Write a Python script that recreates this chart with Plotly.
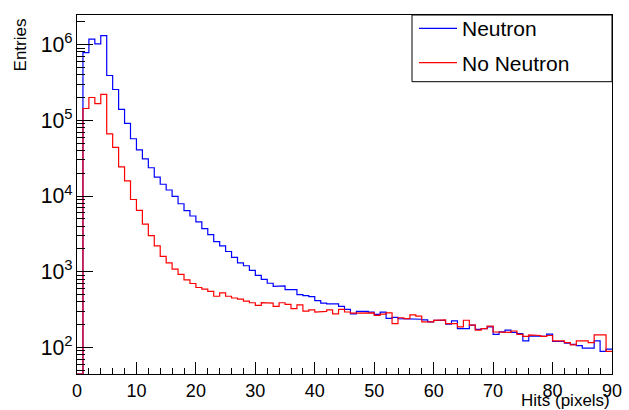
import plotly.graph_objects as go

# Bin edges: 90 bins of width 1 from 0 to 90
bin_lo = 0
bin_hi = 90

neutron = [
    0, 7.8e5, 1.18e6, 1.02e6, 1.31e6, 3.9e5, 2.55e5, 1.39e5, 9.1e4, 5.7e4,
    4.07e4, 3.1e4, 2.36e4, 1.78e4, 1.43e4, 1.2e4, 9.9e3, 7.9e3, 6.4e3, 5.45e3,
    4.55e3, 3.7e3, 3.1e3, 2.5e3, 2.19e3, 1.85e3, 1.55e3, 1.31e3, 1.2e3, 1.04e3,
    895, 795, 705, 640, 650, 580, 580, 500, 485, 470,
    415, 385, 376, 376, 348, 318, 278, 300, 300, 293,
    274, 293, 243, 250, 240, 240, 240, 236, 231, 218,
    228, 228, 203, 224, 178, 178, 197, 173, 178, 187,
    149, 161, 170, 158, 153, 122, 142, 140, 140, 150,
    120, 120, 114, 110, 106, 98, 98, 122, 89, 95,
]

no_neutron = [
    0, 1.43e5, 2.0e5, 1.66e5, 2.2e5, 6.6e4, 4.4e4, 2.43e4, 1.58e4, 9.0e3,
    6.45e3, 4.25e3, 3.0e3, 2.19e3, 1.6e3, 1.31e3, 1.08e3, 925, 780, 700,
    620, 590, 550, 475, 525, 475, 450, 435, 410, 390,
    360, 390, 385, 350, 390, 372, 325, 365, 302, 314,
    294, 300, 314, 278, 318, 294, 285, 290, 287, 287,
    266, 276, 287, 207, 247, 240, 270, 260, 218, 218,
    228, 232, 207, 207, 187, 229, 197, 170, 178, 192,
    161, 161, 158, 165, 149, 140, 147, 144, 140, 144,
    122, 122, 116, 108, 122, 122, 116, 147, 147, 89,
]

y_log_range = [1.65, 6.39]
floor = 10 ** y_log_range[0]


def step_path(values):
    n = len(values)
    w = (bin_hi - bin_lo) / n
    xs, ys = [], []
    for i, v in enumerate(values):
        v = v if v > 0 else floor
        xs += [bin_lo + i * w, bin_lo + (i + 1) * w]
        ys += [v, v]
    return xs, ys


FONT = "Liberation Sans, Arial, Helvetica, sans-serif"

fig = go.Figure()
for name, vals, col in [("Neutron", neutron, "#0000ff"), ("No Neutron", no_neutron, "#ff0000")]:
    xs, ys = step_path(vals)
    fig.add_trace(go.Scatter(
        x=xs, y=ys, mode="lines", name=name, legendgroup=name,
        line=dict(color=col, width=1.2), hoverinfo="skip",
    ))

fig.update_layout(
    width=629, height=410,
    margin=dict(l=77, r=17, t=8, b=36),
    paper_bgcolor="white", plot_bgcolor="white",
    font=dict(family=FONT, color="black", size=17),
    showlegend=True,
    legend=dict(
        x=(414 - 77) / 535, y=1 + 7 / 366, xanchor="left", yanchor="top",
        bgcolor="rgba(0,0,0,0)", borderwidth=0,
        font=dict(family=FONT, size=21, color="black"),
        traceorder="grouped", tracegroupgap=4, itemwidth=38,
    ),
    shapes=[dict(
        type="rect", xref="paper", yref="paper",
        x0=(412 - 77) / 535, x1=1.0, y0=1 - (76 - 8) / 366, y1=1.0,
        line=dict(color="black", width=1), fillcolor="white", layer="below",
    )],
    annotations=[
        dict(text="Hits (pixels)", xref="paper", yref="paper",
             x=1.0, y=-(401 - 374) / 366, xanchor="right", yanchor="middle",
             showarrow=False, font=dict(family=FONT, size=17)),
        dict(text="Entries", xref="paper", yref="paper", textangle=-90,
             x=(20 - 77) / 535, y=1 - 2 / 366, xanchor="center", yanchor="top",
             showarrow=False, font=dict(family=FONT, size=17)),
    ],
)

fig.update_xaxes(
    range=[bin_lo, bin_hi], dtick=10, tick0=0,
    ticks="inside", ticklen=12, tickcolor="black", tickwidth=1,
    minor=dict(ticks="inside", ticklen=6, dtick=2, tickcolor="black", showgrid=False),
    showline=True, linecolor="black", linewidth=1, mirror=True,
    showgrid=False, zeroline=False,
    tickfont=dict(family=FONT, size=18),
)
fig.update_yaxes(
    type="log", range=y_log_range, dtick=1,
    exponentformat="power", showexponent="all",
    ticks="inside", ticklen=16, tickcolor="black", tickwidth=1,
    minor=dict(ticks="inside", ticklen=8, dtick="D1", tickcolor="black", showgrid=False),
    showline=True, linecolor="black", linewidth=1, mirror=True,
    showgrid=False, zeroline=False,
    tickfont=dict(family=FONT, size=17),
)

fig.write_html("out.html", config={"displayModeBar": False},
               post_script="document.body.style.margin='0px';")
